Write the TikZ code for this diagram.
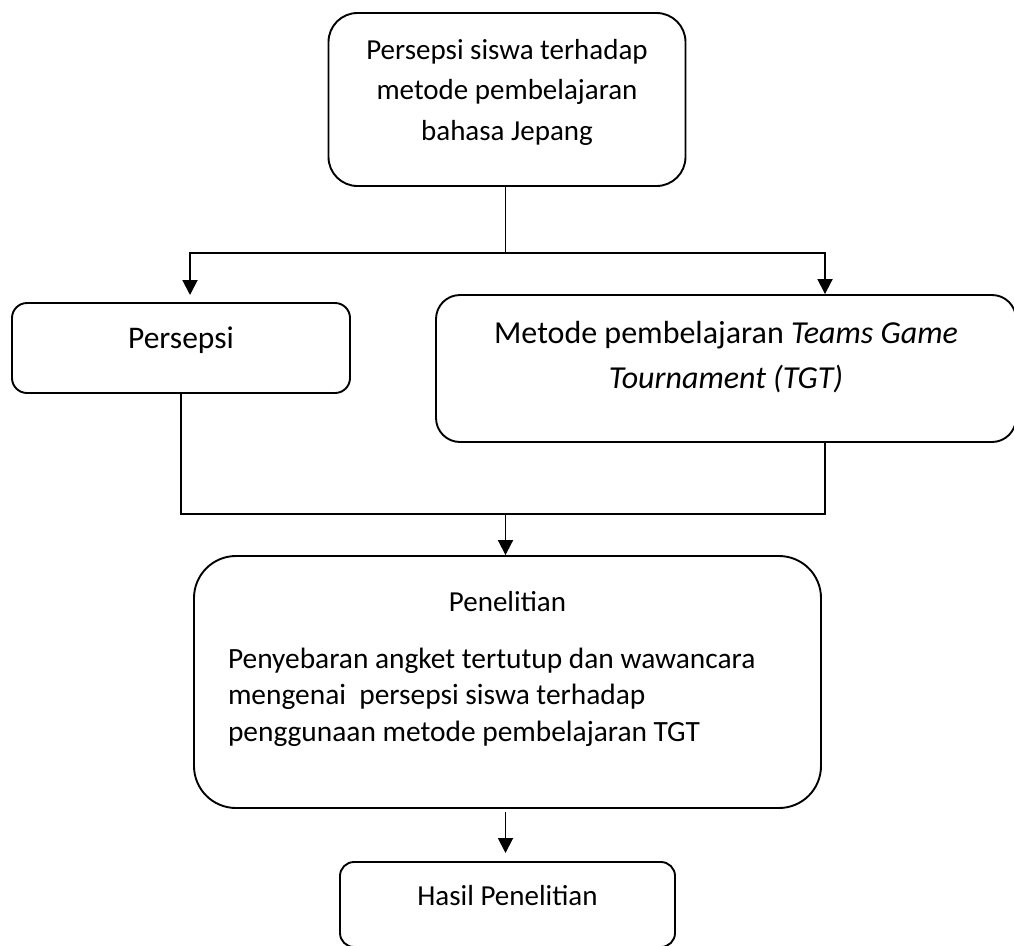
\documentclass[tikz,border=0pt]{standalone}
\usepackage{fontspec}
\setmainfont{Carlito}
\usepackage{tikz}
\usetikzlibrary{arrows.meta, positioning}

\tikzset{
  box/.style={draw, line width=1.9pt, inner xsep=0pt, inner ysep=0pt, align=center, anchor=base},
  link/.style={line width=1.9pt},
  arr/.style={line width=1.9pt, -{Triangle[width=15pt,length=15pt]}},
}

\begin{document}
\begin{tikzpicture}[x=1pt,y=-1pt]
        \useasboundingbox (0,0) rectangle (1014,945);
        \clip (0,0) rectangle (1014,945);

        % boxes, placed at the baseline of their last line
        \node[box, rounded corners=29pt, minimum width=357pt, text height=127pt, text depth=46pt,
              font=\fontsize{29}{40.5}\selectfont] (persepsiSiswa) at (507,140)
              {Persepsi siswa terhadap\\metode pembelajaran\\bahasa Jepang};
        \node[box, rounded corners=15pt, minimum width=338pt, text height=45pt, text depth=45pt,
              font=\fontsize{31.5}{38}\selectfont] (persepsi) at (181,348) {Persepsi};
        \node[box, rounded corners=24pt, minimum width=580pt, text height=93pt, text depth=54pt,
              font=\fontsize{32}{45}\selectfont] (metode) at (726,388)
              {Metode pembelajaran \textit{Teams Game}\\\textit{Tournament (TGT)}};
        \node[box, rounded corners=42pt, minimum width=627pt, align=left,
              text height=185pt, text depth=67pt, font=\fontsize{29.4}{36.5}\selectfont] (penelitian) at (507.5,741)
              {\makebox[559pt]{\fontsize{29}{36.5}\selectfont Penelitian}\\[20.5pt]Penyebaran angket tertutup dan wawancara\\mengenai\ \ persepsi siswa terhadap\\penggunaan metode pembelajaran TGT};
        \node[box, rounded corners=14pt, minimum width=335pt, text height=43pt, text depth=42pt,
              font=\fontsize{29}{36}\selectfont] (hasil) at (507.5,905) {Hasil Penelitian};

        % branch points
        \coordinate (fork) at (505.5,253);
        \coordinate (tipL) at (190,295);
        \coordinate (forkR) at (825,253);
        \coordinate (merge) at (505.5,514);
        \coordinate (mergeR) at (825,514);
        \coordinate (outTop) at (505.5,812);
        \coordinate (outTip) at (505.5,853);

        % connectors
        \draw[link] (persepsiSiswa.south -| fork) -- (fork);
        \draw[arr] (fork) -| (tipL);
        \draw[arr] (fork) -- (forkR) -- (forkR |- metode.north);
        \draw[link] (persepsi.south) |- (mergeR) -- (mergeR |- metode.south);
        \draw[arr] (merge) -- (merge |- penelitian.north);
        \draw[arr] (outTop) -- (outTip);
    \end{tikzpicture}
\end{document}
